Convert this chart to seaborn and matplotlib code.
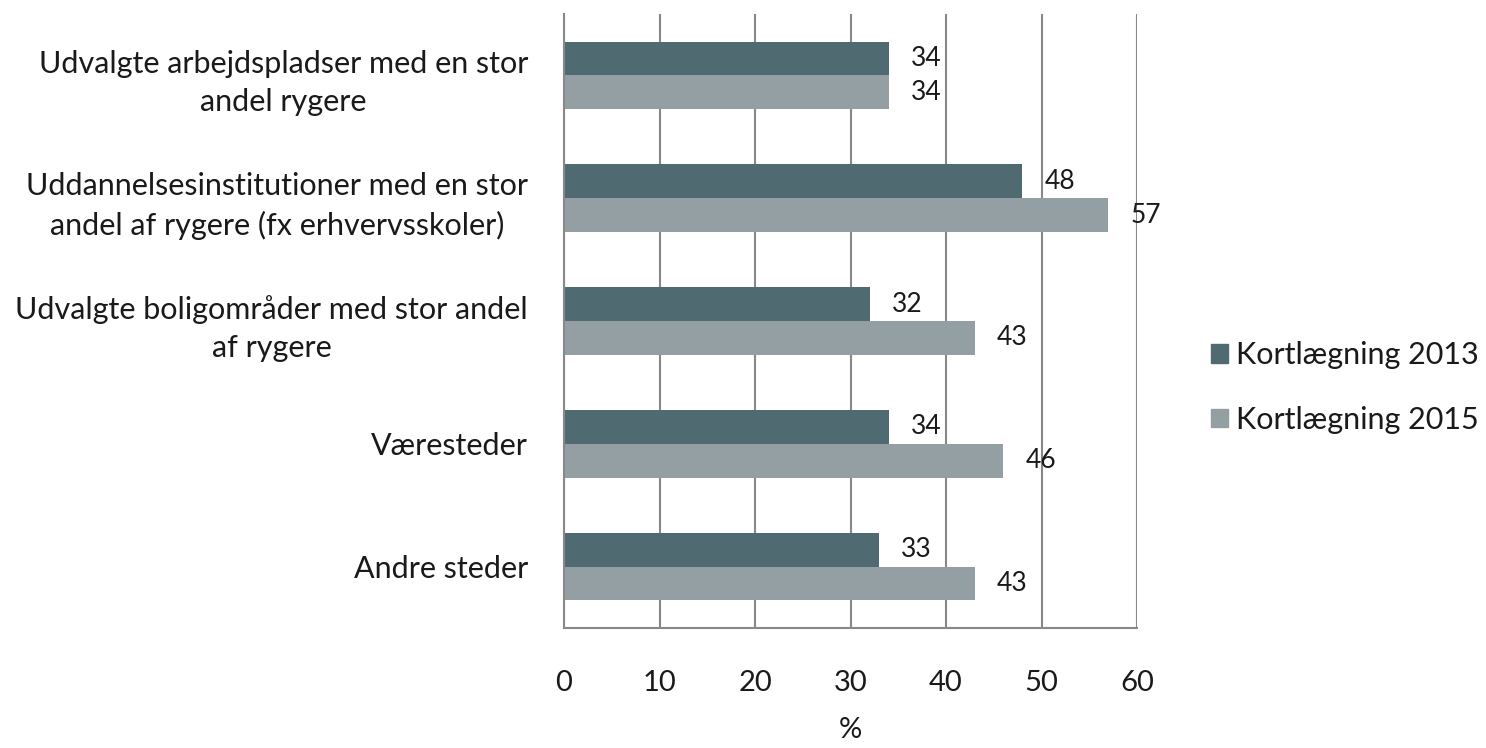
import pandas as pd
import numpy as np
import matplotlib.pyplot as plt
import seaborn as sns
from matplotlib.patches import Patch

# Data
categories = [
    'Udvalgte arbejdspladser med en stor\nandel rygere',
    'Uddannelsesinstitutioner med en stor\nandel af rygere (fx erhvervsskoler)',
    'Udvalgte boligområder med stor andel\naf rygere',
    'Væresteder',
    'Andre steder',
]
series_names = ['Kortlægning 2013', 'Kortlægning 2015']
values_2013 = [34, 48, 32, 34, 33]
values_2015 = [34, 57, 43, 46, 43]
x_ticks = [0, 10, 20, 30, 40, 50, 60]

colors = ['#506a72', '#949fa4']
txt = '#1a1a1a'

df = pd.DataFrame({
    'kategori': categories * 2,
    'serie': [series_names[0]] * 5 + [series_names[1]] * 5,
    'pct': values_2013 + values_2015,
})

sns.set_style('white')
plt.rcParams['font.family'] = ['Lato', 'DejaVu Sans']

fig = plt.figure(figsize=(14.86, 7.48), dpi=100)
ax = fig.add_axes([564 / 1486, 1 - 628 / 748, (1137 - 564) / 1486, (628 - 14) / 748])

sns.barplot(data=df, x='pct', y='kategori', hue='serie', orient='h',
            palette=colors, width=0.55, ax=ax, legend=False, saturation=1,
            linewidth=0)

for c in ax.containers:
    ax.bar_label(c, padding=16, fontsize=19, color=txt)

ax.set_xlim(0, 60)
ax.set_ylim(4.5, -0.5)
ax.set_xticks(x_ticks)
ax.set_xticklabels([str(t) for t in x_ticks], fontsize=21, color=txt)
ax.tick_params(axis='x', length=10, width=1.5, color='#888888', direction='out', pad=20)
ax.tick_params(axis='y', which='major', length=0, pad=26, labelsize=22, labelcolor=txt)
ax.set_yticks(np.arange(-0.5, 5, 1), minor=True)
ax.tick_params(axis='y', which='minor', length=9, width=1.5, color='#888888')
for lab in ax.get_yticklabels():
    lab.set_multialignment('center')
    lab.set_linespacing(1.45)

ax.xaxis.grid(True, color='#888888', linewidth=1.5)
ax.set_axisbelow(True)
for s in ['top', 'right']:
    ax.spines[s].set_visible(False)
for s in ['left', 'bottom']:
    ax.spines[s].set_color('#888888')
    ax.spines[s].set_linewidth(1.5)

ax.set_xlabel('%', fontsize=21, labelpad=15, color=txt)
ax.set_ylabel('')

handles = [Patch(color=colors[0], label=series_names[0]),
           Patch(color=colors[1], label=series_names[1])]
fig.legend(handles=handles, loc='center left', bbox_to_anchor=(0.815, 0.482),
           frameon=False, fontsize=22, handlelength=0.55, handleheight=0.55,
           handletextpad=0.25, labelspacing=1.2, labelcolor=txt,
           borderpad=0, borderaxespad=0)

plt.savefig('out.png', dpi=100)
